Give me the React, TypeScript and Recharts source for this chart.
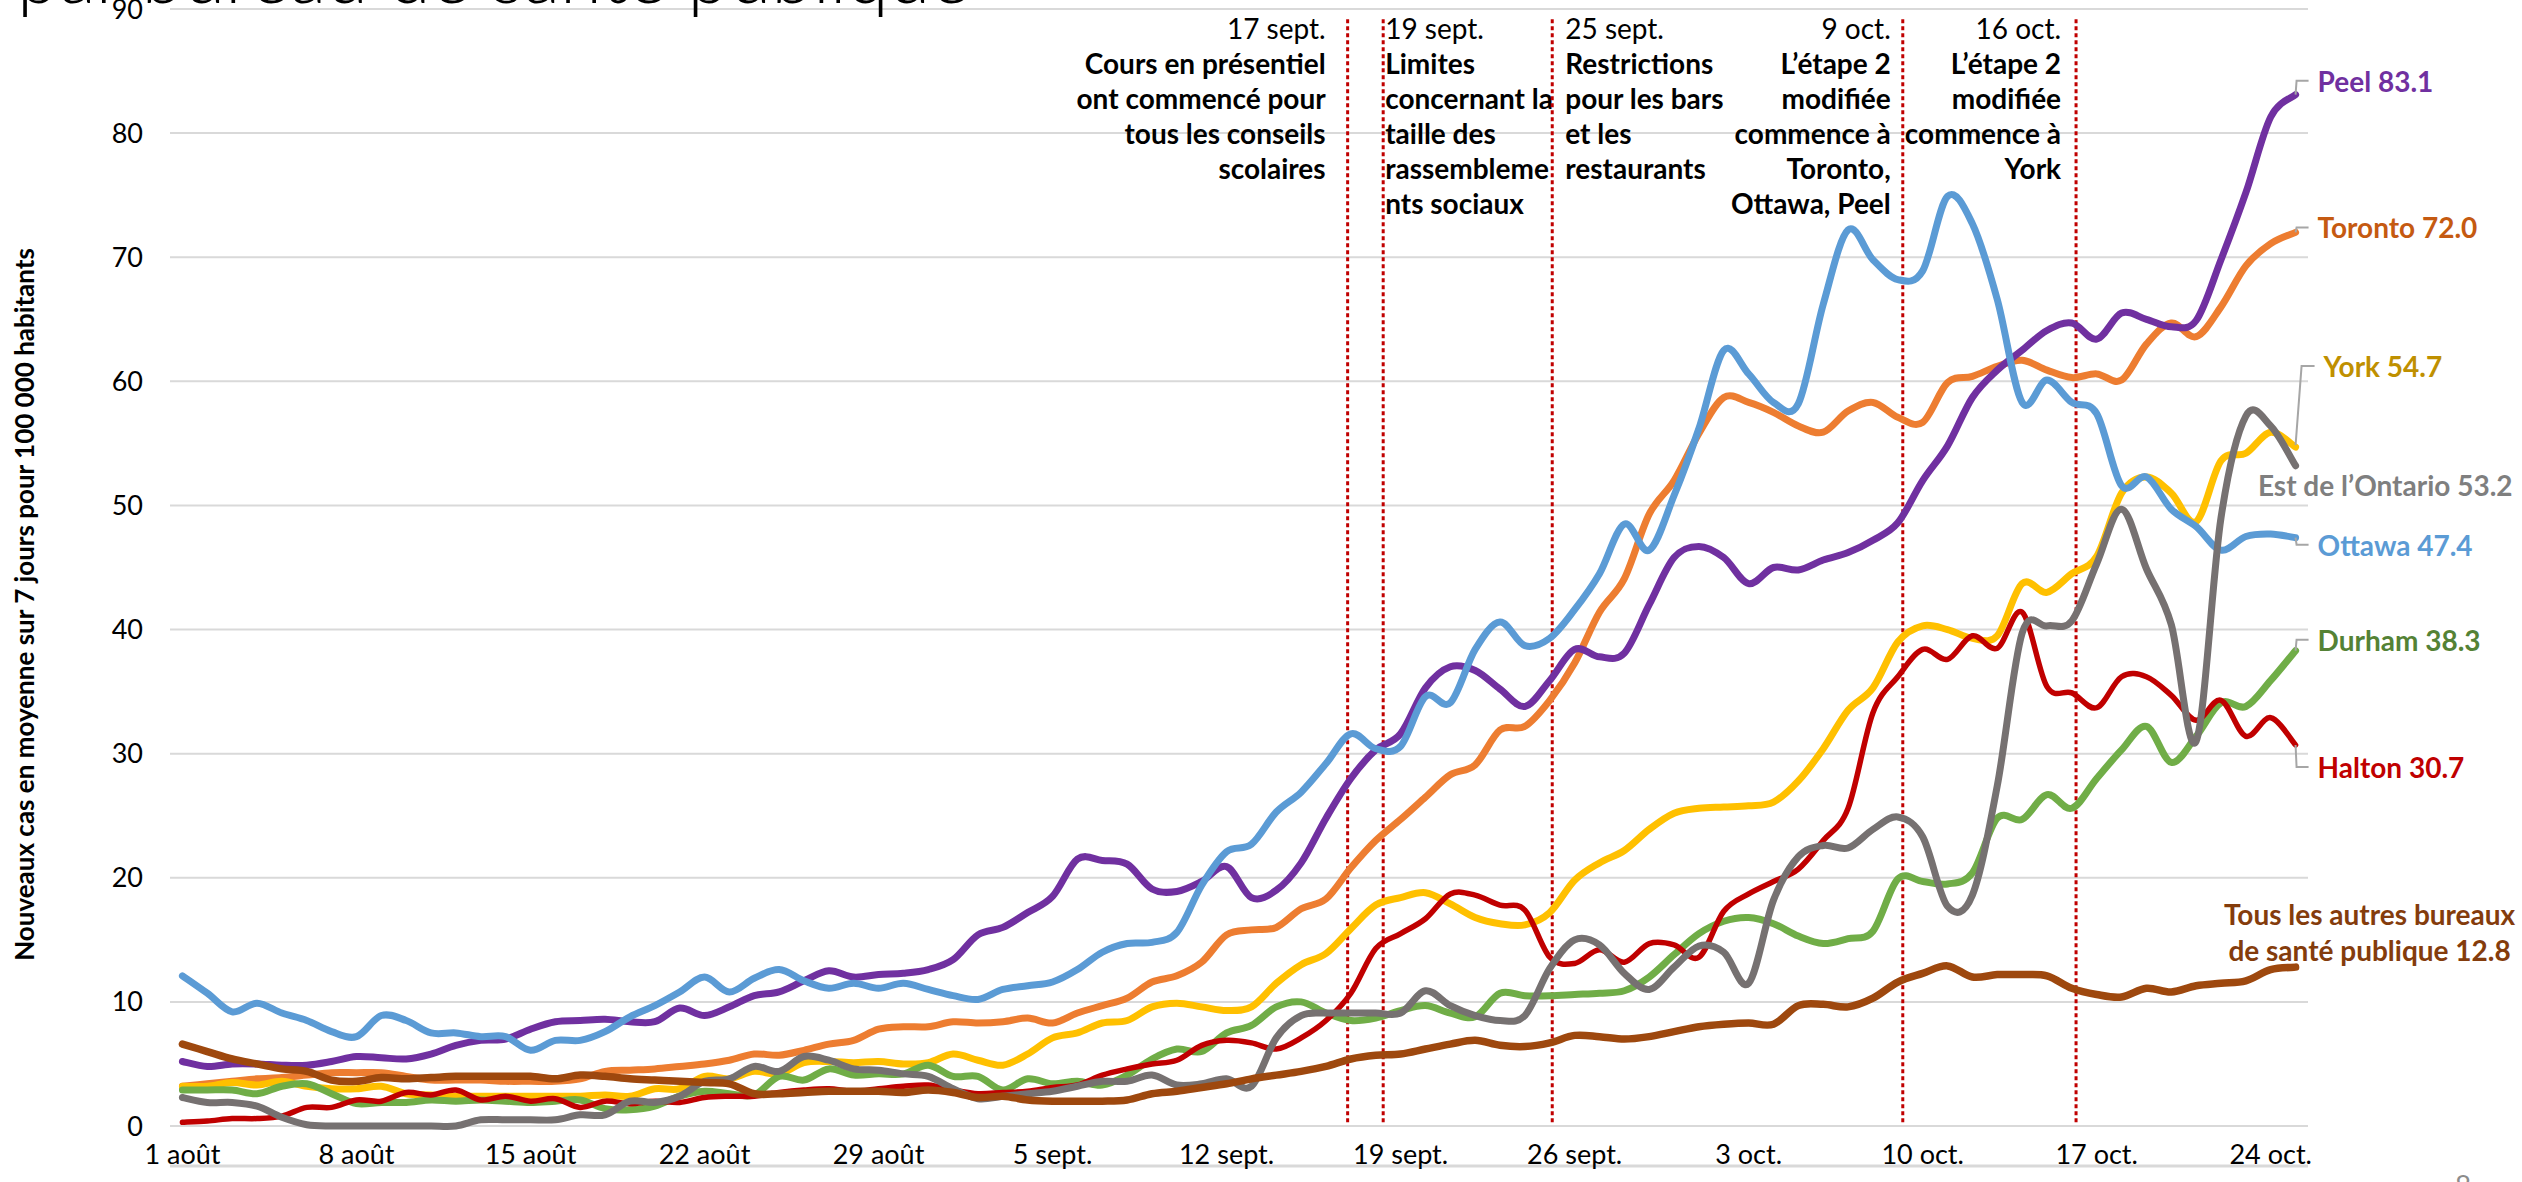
import React from 'react';
import { LineChart, Line, XAxis, YAxis, CartesianGrid, ReferenceLine } from 'recharts';

const FONT = 'Lato, "Liberation Sans", Arial, sans-serif';

// ---------- axes ----------
const DAY_TICKS = [0, 7, 14, 21, 28, 35, 42, 49, 56, 63, 70, 77, 84];
const DAY_LABELS = ['1 août', '8 août', '15 août', '22 août', '29 août', '5 sept.', '12 sept.', '19 sept.', '26 sept.', '3 oct.', '10 oct.', '17 oct.', '24 oct.'];
const BOUNDARY_TICKS = [-0.5, 6.5, 13.5, 20.5, 27.5, 34.5, 41.5, 48.5, 55.5, 62.5, 69.5, 76.5, 83.5];
const Y_TICKS = [0, 10, 20, 30, 40, 50, 60, 70, 80, 90];

// ---------- series (1 août .. 25 oct., one value per day) ----------
const PEEL = [
  5.2, 4.8, 5.0, 5.0, 4.9, 4.9, 5.2, 5.6, 5.5, 5.4,
  5.8, 6.5, 6.9, 7.0, 7.8, 8.4, 8.5, 8.6, 8.4, 8.4,
  9.5, 8.9, 9.6, 10.5, 10.8, 11.7, 12.5, 12.0, 12.2, 12.3,
  12.6, 13.4, 15.4, 16.0, 17.2, 18.5, 21.5, 21.4, 21.1, 19.1,
  18.9, 19.7, 20.9, 18.4, 19.0, 21.2, 24.8, 28.0, 30.3, 31.6,
  35.3, 37.0, 36.7, 35.2, 33.8, 35.9, 38.4, 37.8, 38.1, 42.0,
  45.8, 46.7, 45.8, 43.7, 45.0, 44.8, 45.6, 46.2, 47.2, 48.6,
  52.0, 54.8, 58.7, 60.9, 62.5, 64.1, 64.7, 63.4, 65.5, 65.0,
  64.4, 64.9, 69.8, 75.2, 81.3, 83.1,
];
const TORONTO = [
  3.2, 3.4, 3.6, 3.8, 3.9, 4.1, 4.3, 4.3, 4.3, 4.0,
  3.7, 3.7, 3.7, 3.6, 3.6, 3.6, 3.8, 4.4, 4.5, 4.6,
  4.8, 5.0, 5.3, 5.8, 5.7, 6.1, 6.6, 6.9, 7.8, 8.0,
  8.0, 8.4, 8.3, 8.4, 8.7, 8.3, 9.1, 9.7, 10.3, 11.6,
  12.1, 13.2, 15.4, 15.8, 16.0, 17.5, 18.3, 20.8, 23.0, 24.7,
  26.5, 28.3, 29.1, 31.9, 32.2, 34.3, 37.3, 41.4, 44.1, 49.3,
  52.0, 55.8, 58.7, 58.3, 57.5, 56.4, 55.9, 57.6, 58.3, 57.1,
  56.7, 59.9, 60.4, 61.2, 61.7, 60.9, 60.3, 60.6, 60.1, 63.0,
  64.7, 63.6, 66.0, 69.3, 71.1, 72.0,
];
const OTTAWA = [
  12.1, 10.7, 9.2, 9.9, 9.1, 8.5, 7.6, 7.2, 8.9, 8.5,
  7.5, 7.5, 7.2, 7.2, 6.1, 6.9, 6.9, 7.6, 8.8, 9.7,
  10.8, 12.0, 10.8, 11.9, 12.6, 11.7, 11.1, 11.5, 11.1, 11.5,
  11.0, 10.5, 10.2, 11.0, 11.3, 11.6, 12.6, 14.0, 14.7, 14.8,
  15.6, 19.4, 22.1, 22.7, 25.3, 26.9, 29.2, 31.6, 30.4, 30.6,
  34.6, 34.1, 38.4, 40.6, 38.7, 39.3, 41.6, 44.5, 48.5, 46.4,
  50.8, 56.2, 62.5, 60.6, 58.3, 58.2, 66.2, 72.2, 69.8, 68.2,
  68.9, 74.9, 72.7, 66.6, 58.3, 60.1, 58.3, 57.4, 51.6, 52.3,
  49.7, 48.3, 46.4, 47.5, 47.7, 47.4,
];
const YORK = [
  3.2, 3.2, 3.5, 3.3, 3.6, 3.2, 3.0, 3.0, 3.2, 2.6,
  2.5, 2.4, 2.4, 2.4, 2.4, 2.4, 2.4, 2.5, 2.4, 3.0,
  3.0, 4.0, 3.8, 4.4, 4.2, 5.1, 5.2, 5.1, 5.2, 5.0,
  5.1, 5.8, 5.3, 4.9, 5.8, 7.1, 7.5, 8.3, 8.5, 9.6,
  9.9, 9.6, 9.3, 9.6, 11.5, 13.0, 13.9, 15.9, 17.8, 18.4,
  18.8, 17.9, 16.8, 16.3, 16.2, 17.2, 19.8, 21.2, 22.2, 23.9,
  25.2, 25.6, 25.7, 25.8, 26.1, 27.8, 30.4, 33.5, 35.3, 39.0,
  40.3, 40.0, 39.3, 39.5, 43.7, 43.0, 44.5, 45.9, 51.0, 52.3,
  51.0, 48.7, 53.6, 54.2, 55.9, 54.7,
];
const DURHAM = [
  2.9, 2.9, 2.9, 2.6, 3.2, 3.4, 2.6, 1.8, 1.9, 1.9,
  2.1, 2.0, 2.1, 2.0, 1.9, 2.0, 2.1, 1.4, 1.3, 1.6,
  2.4, 2.8, 2.6, 2.5, 4.0, 3.7, 4.6, 4.1, 4.2, 4.2,
  4.9, 4.0, 4.0, 2.9, 3.8, 3.4, 3.6, 3.3, 4.1, 5.4,
  6.2, 6.0, 7.5, 8.1, 9.6, 10.0, 9.1, 8.5, 8.7, 9.3,
  9.7, 9.1, 8.8, 10.7, 10.5, 10.5, 10.6, 10.7, 10.9, 12.0,
  13.8, 15.5, 16.5, 16.8, 16.3, 15.3, 14.7, 15.1, 15.7, 19.9,
  19.7, 19.5, 20.4, 24.8, 24.7, 26.7, 25.6, 28.0, 30.3, 32.2,
  29.3, 31.4, 34.1, 33.8, 35.9, 38.3,
];
const EST_ONTARIO = [
  2.3, 1.9, 1.9, 1.6, 0.7, 0.1, 0, 0, 0, 0,
  0, 0, 0.5, 0.5, 0.5, 0.5, 0.9, 0.9, 2.0, 1.9,
  2.4, 3.6, 3.8, 4.8, 4.4, 5.6, 5.3, 4.6, 4.5, 4.2,
  4.0, 3.0, 2.2, 2.4, 2.6, 2.8, 3.2, 3.6, 3.6, 4.1,
  3.3, 3.4, 3.8, 3.2, 7.1, 8.9, 9.1, 9.1, 9.1, 9.1,
  10.9, 9.7, 8.9, 8.5, 8.9, 12.7, 15.0, 14.6, 12.3, 11.0,
  12.8, 14.5, 14.0, 11.5, 18.2, 21.7, 22.6, 22.4, 23.9, 24.9,
  23.3, 17.7, 18.6, 27.4, 39.7, 40.3, 40.7, 45.3, 49.7, 44.9,
  40.4, 31.0, 49.0, 57.2, 56.4, 53.2,
];
const HALTON = [
  0.3, 0.4, 0.6, 0.6, 0.8, 1.5, 1.5, 2.1, 2.0, 2.7,
  2.5, 2.9, 2.1, 2.4, 2.0, 2.2, 1.5, 2.0, 1.8, 2.0,
  1.9, 2.3, 2.4, 2.4, 2.7, 2.9, 3.0, 2.8, 3.0, 3.2,
  3.3, 2.9, 2.6, 2.7, 2.8, 3.1, 3.3, 4.1, 4.6, 5.0,
  5.3, 6.5, 6.9, 6.7, 6.2, 7.1, 8.5, 10.7, 14.3, 15.5,
  16.7, 18.7, 18.6, 17.8, 17.4, 13.6, 13.1, 14.2, 13.2, 14.7,
  14.6, 13.6, 17.3, 18.7, 19.7, 20.7, 23.0, 25.6, 33.3, 36.2,
  38.4, 37.6, 39.5, 38.5, 41.4, 35.4, 34.9, 33.7, 36.2, 36.2,
  34.7, 32.7, 34.3, 31.4, 32.9, 30.7,
];
const AUTRES = [
  6.6, 6.0, 5.4, 5.0, 4.6, 4.4, 3.7, 3.6, 3.9, 3.8,
  3.9, 4.0, 4.0, 4.0, 4.0, 3.8, 4.1, 4.0, 3.8, 3.7,
  3.6, 3.5, 3.4, 2.6, 2.6, 2.7, 2.8, 2.8, 2.8, 2.7,
  2.9, 2.7, 2.3, 2.4, 2.1, 2.0, 2.0, 2.0, 2.1, 2.6,
  2.8, 3.1, 3.4, 3.8, 4.1, 4.4, 4.8, 5.4, 5.7, 5.8,
  6.2, 6.6, 6.9, 6.5, 6.4, 6.7, 7.3, 7.2, 7.0, 7.2,
  7.6, 8.0, 8.2, 8.3, 8.2, 9.7, 9.8, 9.6, 10.3, 11.6,
  12.3, 12.9, 12.0, 12.2, 12.2, 12.1, 11.1, 10.6, 10.4, 11.1,
  10.8, 11.3, 11.5, 11.7, 12.6, 12.8,
];

// ---------- annotations ----------
const EVENT_X = [46.87, 48.3, 55.1, 69.2, 76.17];
const EVENT_DATES = ['17 sept.', '19 sept.', '25 sept.', '9 oct.', '16 oct.'];
const EVENT_TEXTS = [
  ['Cours en présentiel', 'ont commencé pour', 'tous les conseils', 'scolaires'],
  ['Limites', 'concernant la', 'taille des', 'rassembleme', 'nts sociaux'],
  ['Restrictions', 'pour les bars', 'et les', 'restaurants'],
  ['L’étape 2', 'modifiée', 'commence à', 'Toronto,', 'Ottawa, Peel'],
  ['L’étape 2', 'modifiée', 'commence à', 'York'],
];
const EVENT_STYLE = [
  { anchor: 'end', gap: -22 },
  { anchor: 'start', gap: 2 },
  { anchor: 'start', gap: 13 },
  { anchor: 'end', gap: -12 },
  { anchor: 'end', gap: -15 },
];

const LAST = PEEL.length - 1;
const data = PEEL.map((_, i) => ({
  day: i,
  toronto: TORONTO[i],
  peel: PEEL[i],
  york: YORK[i],
  ottawa: OTTAWA[i],
  durham: DURHAM[i],
  halton: HALTON[i],
  est: EST_ONTARIO[i],
  autres: AUTRES[i],
}));

// Excel-like smoothing (uniform Catmull-Rom through every point)
const excelSmooth: any = (context: any) => {
  let pts: [number, number][] = [];
  return {
    areaStart() {},
    areaEnd() {},
    lineStart() { pts = []; },
    point(x: number, y: number) { pts.push([+x, +y]); },
    lineEnd() {
      const n = pts.length;
      if (!n) return;
      context.moveTo(pts[0][0], pts[0][1]);
      for (let i = 0; i < n - 1; i++) {
        const p0 = pts[i - 1] || pts[i];
        const p1 = pts[i];
        const p2 = pts[i + 1];
        const p3 = pts[i + 2] || p2;
        context.bezierCurveTo(
          p1[0] + (p2[0] - p0[0]) / 6, p1[1] + (p2[1] - p0[1]) / 6,
          p2[0] - (p3[0] - p1[0]) / 6, p2[1] - (p3[1] - p1[1]) / 6,
          p2[0], p2[1],
        );
      }
    },
  };
};

type SeriesCfg = {
  key: string;
  color: string;
  labelColor: string;
  width: number;
  lines: string[];
  dx: number;
  dy: number;
  anchor: 'start' | 'middle' | 'end';
  leader?: [number, number][];
};

const SERIES: SeriesCfg[] = [
  { key: 'toronto', color: '#ED7D31', labelColor: '#C55A11', width: 7, lines: ['Toronto 72.0'], dx: 22, dy: -5, anchor: 'start', leader: [[0, 0], [1, -5], [13, -5]] },
  { key: 'peel', color: '#7030A0', labelColor: '#7030A0', width: 7, lines: ['Peel 83.1'], dx: 22, dy: -14, anchor: 'start', leader: [[0, 0], [1, -14], [13, -14]] },
  { key: 'york', color: '#FFC000', labelColor: '#BF9000', width: 7, lines: ['York 54.7'], dx: 28, dy: -81, anchor: 'start', leader: [[0, -2], [6, -81], [19, -81]] },
  { key: 'ottawa', color: '#5B9BD5', labelColor: '#5B9BD5', width: 7, lines: ['Ottawa 47.4'], dx: 22, dy: 7, anchor: 'start', leader: [[0, 0], [1, 7], [13, 7]] },
  { key: 'durham', color: '#70AD47', labelColor: '#548235', width: 7, lines: ['Durham 38.3'], dx: 22, dy: -11, anchor: 'start', leader: [[0, 0], [1, -11], [13, -11]] },
  { key: 'halton', color: '#C00000', labelColor: '#C00000', width: 5.5, lines: ['Halton 30.7'], dx: 22, dy: 22, anchor: 'start', leader: [[0, 0], [1, 22], [13, 22]] },
  { key: 'est', color: '#767171', labelColor: '#7F7F7F', width: 7, lines: ['Est de l’Ontario 53.2'], dx: 217, dy: 19, anchor: 'end' },
  { key: 'autres', color: '#9E480E', labelColor: '#843C0C', width: 7.5, lines: ['Tous les autres bureaux', 'de santé publique 12.8'], dx: 74, dy: -53, anchor: 'middle' },
];

const makeEndLabel = (cfg: SeriesCfg) => (props: any) => {
  if (props.index !== LAST) return null;
  const vb = props.viewBox || {};
  const px = vb.x ?? props.x;
  const py = vb.y ?? props.y;
  if (px == null || py == null) return null;
  return (
    <g>
      {cfg.leader && (
        <polyline
          points={cfg.leader.map(([a, b]) => `${px + a},${py + b}`).join(' ')}
          fill="none"
          stroke="#A6A6A6"
          strokeWidth={2}
        />
      )}
      {cfg.lines.map((t, k) => (
        <text
          key={k}
          x={px + cfg.dx}
          y={py + cfg.dy + k * 36}
          textAnchor={cfg.anchor}
          dominantBaseline="central"
          fill={cfg.labelColor}
          fontFamily={FONT}
          fontWeight={700}
          fontSize={28}
        >
          {t}
        </text>
      ))}
    </g>
  );
};

const makeEventLabel = (idx: number) => (props: any) => {
  const vb = props.viewBox || {};
  const x = vb.x ?? 0;
  const st = EVENT_STYLE[idx];
  const lines = [EVENT_DATES[idx], ...EVENT_TEXTS[idx]];
  return (
    <g>
      {lines.map((t, k) => (
        <text
          key={k}
          x={x + st.gap}
          y={28 + k * 35}
          textAnchor={st.anchor}
          dominantBaseline="central"
          fill="#000"
          fontFamily={FONT}
          fontWeight={k === 0 ? 400 : 700}
          fontSize={28}
        >
          {t}
        </text>
      ))}
    </g>
  );
};

const YLabel = (props: any) => {
  const vb = props.viewBox || { x: 110, y: 9, width: 60, height: 1117 };
  const cx = vb.x - 86;
  const cy = vb.y + vb.height / 2 + 37;
  return (
    <text
      x={cx}
      y={cy}
      transform={`rotate(-90, ${cx}, ${cy})`}
      textAnchor="middle"
      dominantBaseline="central"
      fill="#000"
      fontFamily={FONT}
      fontWeight={700}
      fontSize={26}
    >
      Nouveaux cas en moyenne sur 7 jours pour 100 000 habitants
    </text>
  );
};

export default function App() {
  return (
    <div style={{ position: 'absolute', left: 0, top: 0, width: 2522, height: 1182, background: '#fff', overflow: 'hidden' }}>
      <LineChart
        width={2522}
        height={1182}
        data={data}
        margin={{ top: 9, right: 214, bottom: 8, left: 110 }}
      >
        <CartesianGrid xAxisId="m" vertical={false} stroke="#D9D9D9" strokeWidth={2} />
        <XAxis
          xAxisId="m"
          dataKey="day"
          type="number"
          domain={[-0.5, 85.5]}
          ticks={BOUNDARY_TICKS}
          interval={0}
          tick={false}
          tickSize={8}
          height={8}
          axisLine={{ stroke: '#D9D9D9', strokeWidth: 3 }}
          tickLine={{ stroke: '#D9D9D9', strokeWidth: 2 }}
          allowDataOverflow
        />
        <XAxis
          xAxisId="l"
          dataKey="day"
          type="number"
          domain={[-0.5, 85.5]}
          ticks={DAY_TICKS}
          interval={0}
          tickFormatter={(v: number) => DAY_LABELS[DAY_TICKS.indexOf(v)] ?? ''}
          axisLine={false}
          tickLine={false}
          tickSize={0}
          tickMargin={19}
          height={40}
          tick={{ fill: '#000', fontSize: 27, fontFamily: FONT }}
          allowDataOverflow
        />
        <YAxis
          domain={[0, 90]}
          ticks={Y_TICKS}
          interval={0}
          width={60}
          axisLine={false}
          tickLine={false}
          tickSize={0}
          tickMargin={27}
          tick={{ fill: '#000', fontSize: 27, fontFamily: FONT }}
          label={(p: any) => <YLabel {...p} />}
        />
        {EVENT_X.map((x, i) => (
          <ReferenceLine
            key={`ev-${i}`}
            xAxisId="m"
            segment={[{ x, y: 0.3 }, { x, y: 89.4 }]}
            stroke="#C00000"
            strokeWidth={3}
            strokeDasharray="4 3"
            ifOverflow="visible"
            label={makeEventLabel(i)}
          />
        ))}
        {SERIES.map((s) => (
          <Line
            key={s.key}
            xAxisId="m"
            dataKey={s.key}
            type={excelSmooth}
            stroke={s.color}
            strokeWidth={s.width}
            strokeLinecap="round"
            strokeLinejoin="round"
            dot={false}
            activeDot={false}
            isAnimationActive={false}
            label={makeEndLabel(s)}
          />
        ))}
      </LineChart>
      <svg
        width={2522}
        height={1182}
        style={{ position: 'absolute', left: 0, top: 0, pointerEvents: 'none' }}
      >
        <text x={17} y={3} fill="#000" fontFamily={FONT} fontWeight={300} fontSize={76}>
          par bureau de santé publique
        </text>
        <text x={2463} y={1196} textAnchor="middle" fill="#8C8C8C" fontFamily={FONT} fontSize={28}>
          8
        </text>
      </svg>
    </div>
  );
}
